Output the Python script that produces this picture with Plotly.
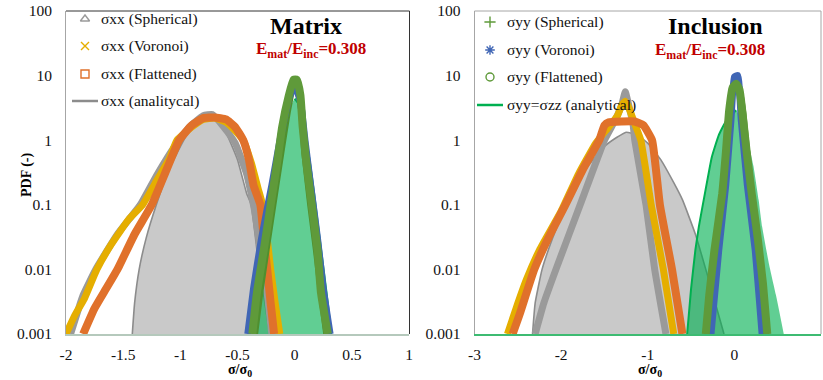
import plotly.graph_objects as go

# ---------------- DATA ----------------
# Matrix panel (left) -- sigma_xx
m_sph_x = [-1.96, -1.85, -1.74, -1.55, -1.35, -1.2, -1.05, -0.92, -0.8, -0.72, -0.62, -0.52, -0.42, -0.35, -0.3, -0.25, -0.2]
m_sph_y = [0.001, 0.004, 0.01, 0.035, 0.1, 0.3, 0.8, 1.6, 2.4, 2.5, 1.6, 0.9, 0.3, 0.08, 0.02, 0.006, 0.001]
m_vor_x = [-2.0, -1.92, -1.84, -1.73, -1.6, -1.45, -1.33, -1.2, -1.1, -1.03, -0.9, -0.8, -0.7, -0.6, -0.52, -0.45, -0.38, -0.32, -0.28, -0.24, -0.21, -0.17, -0.13]
m_vor_y = [0.001, 0.002, 0.0035, 0.01, 0.025, 0.06, 0.1, 0.25, 0.5, 1.0, 1.6, 2.1, 2.2, 1.9, 1.4, 1.0, 0.45, 0.18, 0.1, 0.03, 0.01, 0.003, 0.001]
m_fla_x = [-1.85, -1.75, -1.65, -1.55, -1.4, -1.25, -1.12, -1.01, -0.9, -0.8, -0.7, -0.6, -0.52, -0.45, -0.4, -0.36, -0.3, -0.27, -0.24, -0.21, -0.18]
m_fla_y = [0.001, 0.0025, 0.005, 0.01, 0.035, 0.1, 0.35, 1.0, 1.7, 2.2, 2.25, 2.1, 1.6, 1.0, 0.5, 0.2, 0.1, 0.03, 0.01, 0.003, 0.001]
m_ana_x = [-1.42, -1.40, -1.36, -1.30, -1.21, -1.1, -0.97, -0.88, -0.79, -0.7, -0.6, -0.5, -0.42, -0.38, -0.31, -0.26, -0.22]
m_ana_y = [0.001, 0.003, 0.01, 0.03, 0.1, 0.35, 1.0, 1.8, 2.6, 2.2, 1.3, 0.5, 0.15, 0.1, 0.01, 0.003, 0.001]
# Matrix panel (left) -- sigma_yy
m_yy_sph_x = [-0.35, -0.3, -0.25, -0.19, -0.13, -0.06, -0.01, 0.02, 0.06, 0.09, 0.14, 0.19, 0.23, 0.28]
m_yy_sph_y = [0.001, 0.005, 0.02, 0.1, 0.5, 3.0, 7.5, 7.5, 3.0, 0.6, 0.1, 0.02, 0.005, 0.001]
m_yy_vor_x = [-0.41, -0.36, -0.29, -0.2, -0.12, -0.05, 0.0, 0.05, 0.09, 0.14, 0.2, 0.25, 0.31]
m_yy_vor_y = [0.001, 0.005, 0.03, 0.2, 1.2, 4.5, 7.0, 4.0, 1.0, 0.2, 0.03, 0.005, 0.001]
m_yy_fla_x = [-0.37, -0.33, -0.27, -0.21, -0.15, -0.11, -0.05, -0.01, 0.02, 0.05, 0.07, 0.1, 0.15, 0.2, 0.23, 0.29]
m_yy_fla_y = [0.001, 0.0044, 0.02, 0.1, 0.49, 1.58, 5.0, 8.6, 8.6, 5.0, 1.6, 0.49, 0.1, 0.02, 0.0044, 0.001]
m_yy_ana_x = [-0.33, -0.25, -0.17, -0.09, -0.03, 0.0, 0.04, 0.1, 0.13, 0.17, 0.21, 0.26, 0.29, 0.32]
m_yy_ana_y = [0.001, 0.01, 0.1, 1.0, 3.5, 4.4, 3.5, 1.0, 0.5, 0.15, 0.04, 0.008, 0.003, 0.001]

# Inclusion panel (right) -- sigma_xx
i_sph_x = [-2.3, -2.2, -2.06, -1.78, -1.5, -1.38, -1.3, -1.26, -1.22, -1.17, -1.15, -1.02, -0.92, -0.79]
i_sph_y = [0.001, 0.003, 0.01, 0.1, 1.0, 2.0, 3.5, 5.6, 3.5, 1.8, 1.0, 0.1, 0.01, 0.001]
i_vor_x = [-2.62, -2.52, -2.4, -2.25, -2.0, -1.8, -1.6, -1.45, -1.35, -1.3, -1.26, -1.22, -1.15, -1.08, -0.96, -0.82, -0.7]
i_vor_y = [0.001, 0.0025, 0.007, 0.02, 0.08, 0.3, 0.9, 1.6, 2.4, 3.5, 4.0, 3.2, 1.8, 1.0, 0.1, 0.01, 0.001]
i_fla_x = [-2.56, -2.48, -2.31, -2.15, -1.95, -1.75, -1.56, -1.5, -1.45, -1.3, -1.15, -1.05, -0.95, -0.86, -0.72, -0.6]
i_fla_y = [0.001, 0.002, 0.01, 0.03, 0.1, 0.35, 1.0, 1.7, 1.9, 1.95, 1.95, 1.7, 1.0, 0.1, 0.01, 0.001]
i_ana_x = [-2.33, -2.3, -2.22, -2.1, -1.94, -1.72, -1.5, -1.36, -1.25, -1.12, -1.0, -0.85, -0.7, -0.6, -0.45, -0.33, -0.22, -0.12]
i_ana_y = [0.001, 0.003, 0.01, 0.03, 0.1, 0.35, 0.8, 1.1, 1.33, 1.2, 0.9, 0.5, 0.22, 0.12, 0.035, 0.01, 0.003, 0.001]
# Inclusion panel (right) -- sigma_yy
i_yy_sph_x = [-0.31, -0.22, -0.13, -0.06, -0.02, 0.02, 0.06, 0.1, 0.19, 0.28, 0.36]
i_yy_sph_y = [0.001, 0.02, 0.15, 2.5, 6.5, 7.2, 5.5, 2.5, 0.15, 0.02, 0.001]
i_yy_vor_x = [-0.27, -0.18, -0.1, -0.04, 0.0, 0.04, 0.08, 0.15, 0.24, 0.32]
i_yy_vor_y = [0.001, 0.02, 0.2, 2.0, 9.5, 10.0, 2.0, 0.2, 0.02, 0.001]
i_yy_fla_x = [-0.33, -0.29, -0.23, -0.14, -0.1, -0.06, -0.02, 0.02, 0.06, 0.09, 0.14, 0.2, 0.27, 0.33, 0.38]
i_yy_fla_y = [0.001, 0.004, 0.02, 0.15, 0.6, 2.9, 6.5, 7.5, 6.0, 2.9, 0.7, 0.15, 0.03, 0.006, 0.001]
i_yy_ana_x = [-0.545, -0.5, -0.45, -0.41, -0.34, -0.26, -0.18, -0.095, 0.02, 0.135, 0.22, 0.28, 0.32, 0.4, 0.48, 0.57]
i_yy_ana_y = [0.001, 0.005, 0.02, 0.046, 0.15, 0.55, 1.2, 2.0, 2.9, 1.28, 0.4, 0.12, 0.046, 0.012, 0.004, 0.001]

y_tickvals = [0.001, 0.01, 0.1, 1, 10, 100]
y_ticktext = ["0.001", "0.01", "0.1", "1", "10", "100"]
xl_tickvals = [-2, -1.5, -1, -0.5, 0, 0.5, 1]
xl_ticktext = ["-2", "-1.5", "-1", "-0.5", "0", "0.5", "1"]
xr_tickvals = [-3, -2, -1, 0, 1]
xr_ticktext = ["-3", "-2", "-1", "0", "1"]

left_legend = ["σxx (Spherical)", "σxx (Voronoi)", "σxx (Flattened)", "σxx (analitycal)"]
right_legend = ["σyy (Spherical)", "σyy (Voronoi)", "σyy (Flattened)", "σyy=σzz (analytical)"]

# ---------------- STYLE ----------------
FONT = "Liberation Serif"
C_GRAY = "#9A9A9A"
C_YEL = "#E5AE00"
C_ORA = "#E0712B"
C_ANA_LINE = "#8C8C8C"
C_ANA_FILL = "#C9C9C9"
C_GRN = "#5F9A3A"
C_GRN2 = "#4F8F2F"
C_BLU = "#4066B5"
C_GANA = "#00B050"
C_GANA_FILL = "rgba(0,176,80,0.62)"

W, H = 823, 380
def px(x): return x / W
def py(y): return 1 - y / H

fig = go.Figure()

def band(x, y, color, width, xa, ya):
    fig.add_trace(go.Scatter(x=x, y=y, mode="lines", xaxis=xa, yaxis=ya,
                             line=dict(color=color, width=width, shape="spline", smoothing=0.4),
                             showlegend=False, hoverinfo="skip"))

def fill(x, y, lcolor, fcolor, xa, ya, lw=1.6):
    fig.add_trace(go.Scatter(x=x, y=y, mode="lines", xaxis=xa, yaxis=ya, fill="toself",
                             fillcolor=fcolor, line=dict(color=lcolor, width=lw, shape="spline", smoothing=0.4),
                             showlegend=False, hoverinfo="skip"))

def line(x, y, color, xa, ya, w=2):
    fig.add_trace(go.Scatter(x=x, y=y, mode="lines", xaxis=xa, yaxis=ya,
                             line=dict(color=color, width=w, shape="spline", smoothing=0.4),
                             showlegend=False, hoverinfo="skip"))

# ---- Matrix panel
fill(m_ana_x, m_ana_y, C_ANA_LINE, C_ANA_FILL, "x", "y")
fill(m_yy_ana_x, m_yy_ana_y, "rgba(0,0,0,0)", C_GANA_FILL, "x", "y", 0)
line(m_yy_ana_x[5:], m_yy_ana_y[5:], C_GANA, "x", "y")
band(m_sph_x, m_sph_y, C_GRAY, 7, "x", "y")
band(m_vor_x, m_vor_y, C_YEL, 7, "x", "y")
band(m_fla_x, m_fla_y, C_ORA, 8, "x", "y")
band(m_yy_sph_x, m_yy_sph_y, C_GRN2, 7, "x", "y")
band(m_yy_vor_x, m_yy_vor_y, C_BLU, 7, "x", "y")
band(m_yy_fla_x, m_yy_fla_y, C_GRN, 8, "x", "y")

# ---- Inclusion panel
fill(i_ana_x, i_ana_y, C_ANA_LINE, C_ANA_FILL, "x2", "y2")
fill(i_yy_ana_x, i_yy_ana_y, "rgba(0,0,0,0)", C_GANA_FILL, "x2", "y2", 0)
line(i_yy_ana_x[:9], i_yy_ana_y[:9], C_GANA, "x2", "y2")
band(i_sph_x, i_sph_y, C_GRAY, 7, "x2", "y2")
band(i_vor_x, i_vor_y, C_YEL, 7, "x2", "y2")
band(i_fla_x, i_fla_y, C_ORA, 8, "x2", "y2")
band(i_yy_sph_x, i_yy_sph_y, C_GRN2, 7, "x2", "y2")
band(i_yy_vor_x, i_yy_vor_y, C_BLU, 7, "x2", "y2")
band(i_yy_fla_x, i_yy_fla_y, C_GRN, 8, "x2", "y2")

# ---- hand-built legends on a full-page overlay axis (pixel coordinates)
LEG_FS = 15.5
left_rows = [19, 46, 74, 101]
right_rows = [22, 50, 77, 105]
left_sym = [("triangle-up-open", C_GRAY), ("x-thin-open", C_YEL), ("square-open", C_ORA)]
right_sym = [("cross-thin-open", C_GRN), ("asterisk-open", C_BLU), ("circle-open", C_GRN)]
for (sym, col), yy in zip(left_sym, left_rows[:3]):
    fig.add_trace(go.Scatter(x=[85], y=[yy], xaxis="x3", yaxis="y3", mode="markers", cliponaxis=False,
                             marker=dict(symbol=sym, size=8, color=col, line=dict(width=1.4, color=col)),
                             showlegend=False, hoverinfo="skip"))
for (sym, col), yy in zip(right_sym, right_rows[:3]):
    fig.add_trace(go.Scatter(x=[490], y=[yy], xaxis="x3", yaxis="y3", mode="markers", cliponaxis=False,
                             marker=dict(symbol=sym, size=8, color=col, line=dict(width=1.4, color=col)),
                             showlegend=False, hoverinfo="skip"))
fig.add_trace(go.Scatter(x=[72, 98], y=[left_rows[3], left_rows[3]], xaxis="x3", yaxis="y3", mode="lines",
                         line=dict(color=C_ANA_LINE, width=2.5), showlegend=False, hoverinfo="skip"))
fig.add_trace(go.Scatter(x=[477, 503], y=[right_rows[3], right_rows[3]], xaxis="x3", yaxis="y3", mode="lines",
                         line=dict(color=C_GANA, width=2.5), showlegend=False, hoverinfo="skip"))

tickfont = dict(family=FONT, size=15.5, color="#111")
yax = dict(type="log", range=[-3, 2], tickvals=y_tickvals, ticktext=y_ticktext, showgrid=False,
           zeroline=False, showline=True, linecolor="#A6A6A6", linewidth=1, ticks="",
           tickfont=tickfont, ticklabelstandoff=10, domain=[py(334), py(11)], automargin=False)
fig.update_layout(
    width=W, height=H, margin=dict(l=0, r=0, t=0, b=0, autoexpand=False),
    font=dict(family=FONT, size=15, color="#111"),
    paper_bgcolor="white", plot_bgcolor="rgba(0,0,0,0)",
    showlegend=False,
    xaxis=dict(range=[-2, 1], domain=[px(66), px(409)], tickvals=xl_tickvals, ticktext=xl_ticktext,
               showgrid=False, zeroline=False, showline=True, linecolor="#B5C9BC", linewidth=1.5,
               ticks="", tickfont=tickfont, ticklabelstandoff=6, anchor="y", automargin=False),
    yaxis=dict(yax, anchor="x"),
    xaxis2=dict(range=[-3, 1], domain=[px(474.5), px(821)], tickvals=xr_tickvals, ticktext=xr_ticktext,
                showgrid=False, zeroline=False, showline=True, linecolor="#3DBB72", linewidth=1.5,
                ticks="", tickfont=tickfont, ticklabelstandoff=6, anchor="y2", automargin=False),
    yaxis2=dict(yax, anchor="x2"),
    xaxis3=dict(range=[0, W], domain=[0, 1], visible=False, anchor="y3", fixedrange=True),
    yaxis3=dict(range=[H, 0], domain=[0, 1], visible=False, anchor="x3", fixedrange=True),
)

# frame lines
fig.add_shape(type="line", xref="paper", yref="paper", x0=px(66), x1=px(409.5), y0=py(11), y1=py(11), line=dict(color="#333", width=1))
fig.add_shape(type="line", xref="paper", yref="paper", x0=px(409.5), x1=px(409.5), y0=py(11), y1=py(334), line=dict(color="#333", width=1))
fig.add_shape(type="line", xref="paper", yref="paper", x0=px(474.5), x1=px(821), y0=py(11), y1=py(11), line=dict(color="#A6A6A6", width=1))
fig.add_shape(type="line", xref="paper", yref="paper", x0=px(821), x1=px(821), y0=py(11), y1=py(334), line=dict(color="#A6A6A6", width=1))

def ann(x, y, text, size, color="#000", angle=0, xanchor="center"):
    fig.add_annotation(x=px(x), y=py(y), xref="paper", yref="paper", text=text, showarrow=False,
                       font=dict(family=FONT, size=size, color=color), textangle=angle,
                       xanchor=xanchor, yanchor="middle")

for name, yy in zip(left_legend, left_rows):
    ann(99, yy, name, LEG_FS, "#111", xanchor="left")
for name, yy in zip(right_legend, right_rows):
    ann(505, yy, name, LEG_FS, "#111", xanchor="left")

ann(306, 26, "<b>Matrix</b>", 24)
ann(311, 50, "<b>E<sub>mat</sub>/E<sub>inc</sub>=0.308</b>", 17, "#C00000")
ann(715, 26, "<b>Inclusion</b>", 24)
ann(710, 51, "<b>E<sub>mat</sub>/E<sub>inc</sub>=0.308</b>", 17, "#C00000")
ann(27, 175, "<b>PDF (-)</b>", 14, angle=-90)
ann(240, 370, "<b>σ/σ<sub>0</sub></b>", 14)
ann(650, 370, "<b>σ/σ<sub>0</sub></b>", 14)

fig.write_html("out.html")
